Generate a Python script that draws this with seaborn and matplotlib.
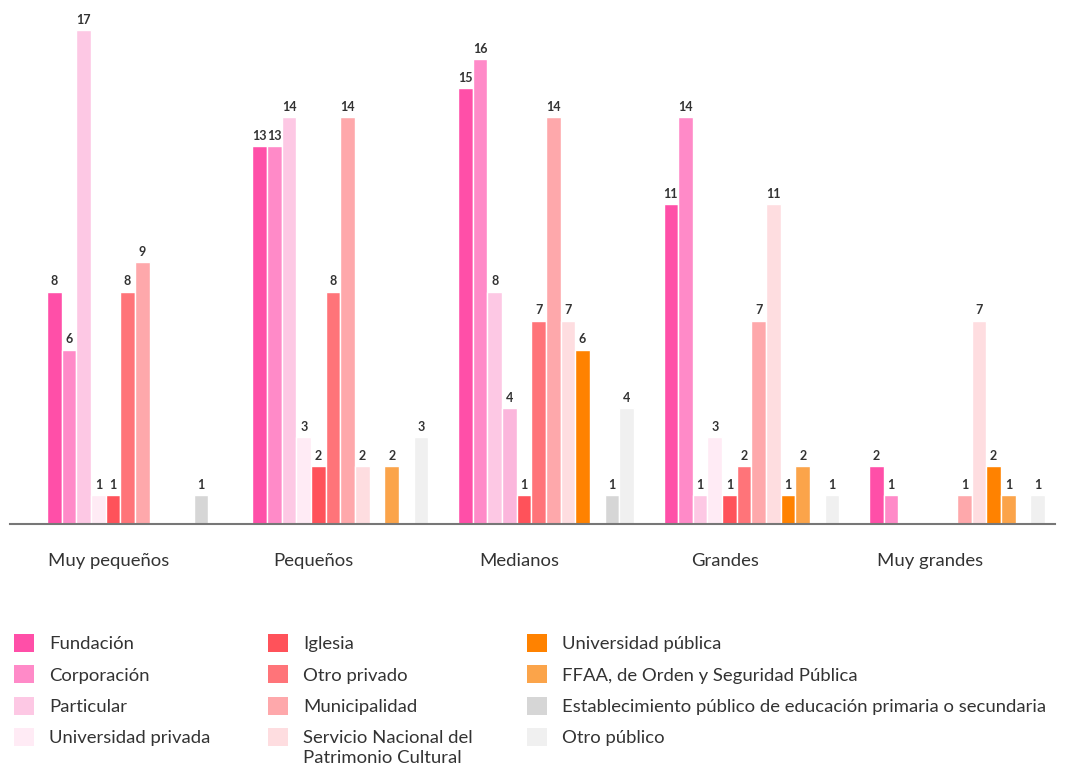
"""
Museos por tamaño y tipo de institución — grouped bar chart.
Saves out.png (1068x766).
"""

import pandas as pd
import matplotlib.pyplot as plt
from matplotlib.patches import Patch
import seaborn as sns

# ── Data ───────────────────────────────────────────────────────────────────────
TAMANOS = ["Muy pequeños", "Pequeños", "Medianos", "Grandes", "Muy grandes"]

TIPOS = [
    "Fundación", "Corporación", "Particular", "Universidad privada",
    "Iglesia", "Otro privado", "Municipalidad",
    "Servicio Nacional del\nPatrimonio Cultural",
    "Universidad pública", "FFAA, de Orden y Seguridad Pública",
    "Establecimiento público de educación primaria o secundaria",
    "Otro público",
]

fundacion       = [8, 13, 15, 11, 2]
corporacion     = [6, 13, 16, 14, 1]
particular      = [17, 14, 8, 1, 0]
univ_privada    = [1, 3, 4, 3, 0]
iglesia         = [1, 2, 1, 1, 0]
otro_privado    = [8, 8, 7, 2, 0]
municipalidad   = [9, 14, 14, 7, 1]
servicio_nac    = [0, 2, 7, 11, 7]
univ_publica    = [0, 0, 6, 1, 2]
ffaa            = [0, 2, 0, 2, 1]
establecimiento = [1, 0, 1, 0, 0]
otro_publico    = [0, 3, 4, 1, 1]

SERIES = [fundacion, corporacion, particular, univ_privada, iglesia,
          otro_privado, municipalidad, servicio_nac, univ_publica, ffaa,
          establecimiento, otro_publico]

COLORS = ["#ff4fa8", "#ff8ac8", "#fdc8e4", "#ffebf5", "#ff525a", "#ff7479",
          "#fea8ab", "#fedde0", "#ff8200", "#fba44a", "#d6d6d6", "#f0f0f0"]

# ── Style ──────────────────────────────────────────────────────────────────────
TEXT = "#333333"
FONT = "Lato"
FS   = 13.3

sns.set_style("white")
plt.rcParams.update({
    "font.family": [FONT, "DejaVu Sans"],
    "text.color":  TEXT,
    "xtick.color": TEXT,
})

rows = [(t, tipo, v) for tipo, vals in zip(TIPOS, SERIES)
        for t, v in zip(TAMANOS, vals)]
df = pd.DataFrame(rows, columns=["tamano", "tipo", "valor"])

fig = plt.figure(figsize=(10.68, 7.66), dpi=100)
ax = fig.add_axes([10 / 1068, 1 - 524 / 766, 1045 / 1068, 514 / 766])

sns.barplot(data=df, x="tamano", y="valor", hue="tipo",
            order=TAMANOS, hue_order=TIPOS,
            palette=dict(zip(TIPOS, COLORS)), saturation=1,
            width=0.856, errorbar=None, legend=False,
            edgecolor="white", linewidth=1, ax=ax)

# the "Medianos" bar of Universidad privada is a deeper pink in the original
ax.containers[3][2].set_facecolor("#fbb6dc")

for cont, vals in zip(ax.containers, SERIES):
    ax.bar_label(cont, labels=[str(v) if v > 0 else "" for v in vals],
                 padding=3, fontsize=9, fontweight="bold", color=TEXT)

ax.set_xlim(-0.608, 4.477)
ax.set_ylim(0, 17.69)
ax.set_xlabel("")
ax.set_ylabel("")
ax.set_yticks([])
ax.set_xticks([i - 0.13 for i in range(len(TAMANOS))])
ax.set_xticklabels(TAMANOS, fontsize=FS)
ax.tick_params(axis="x", length=0, pad=21)
for side in ("top", "right", "left"):
    ax.spines[side].set_visible(False)
ax.spines["bottom"].set_color("#777777")
ax.spines["bottom"].set_linewidth(1.5)

# ── Legend: three columns placed by hand ───────────────────────────────────────
# a two-line label keeps its swatch next to the first line, second line added below
handles = [Patch(facecolor=c, edgecolor="none") for c in COLORS]
first_lines = [t.split("\n")[0] for t in TIPOS]
col_x = [14, 268, 527]
legends = []
for k, x in enumerate(col_x):
    leg = fig.legend(handles[4 * k:4 * k + 4], first_lines[4 * k:4 * k + 4],
                     loc="upper left", bbox_to_anchor=(x / 1068, 1 - 634 / 766),
                     frameon=False, fontsize=FS, handlelength=1.1,
                     handleheight=1.1, handletextpad=0.8, labelspacing=0.72,
                     borderpad=0, borderaxespad=0, labelcolor=TEXT)
    legends.append(leg)

fig.canvas.draw()
inv = fig.transFigure.inverted()
for k, leg in enumerate(legends):
    for txt, full in zip(leg.get_texts(), TIPOS[4 * k:4 * k + 4]):
        if "\n" in full:
            bb = txt.get_window_extent()
            x0, y0 = inv.transform((bb.x0, bb.y0 - 20))
            fig.text(x0, y0, full.split("\n")[1], fontsize=FS,
                     color=TEXT, ha="left", va="bottom")

fig.savefig("out.png", dpi=100)
